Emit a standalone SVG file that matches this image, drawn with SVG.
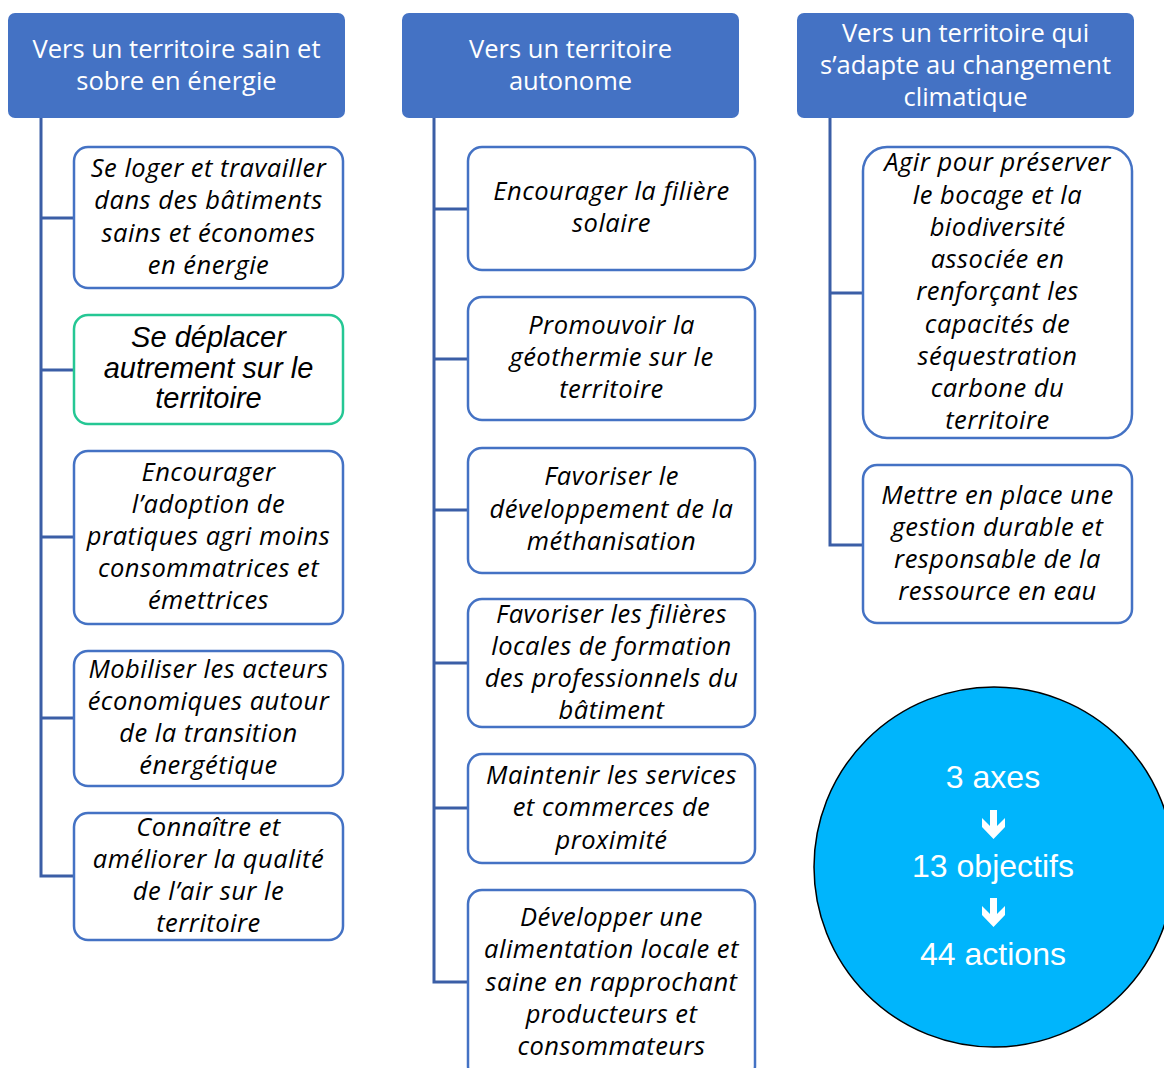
<svg xmlns="http://www.w3.org/2000/svg" width="1164" height="1068" viewBox="0 0 1164 1068">
<style>
.hdr{fill:#4472C4}
.ht{fill:#fff;font-family:"Open Sans","Noto Sans",sans-serif;font-size:25.5px;text-anchor:middle}
.box{fill:#fff;stroke:#4472C4;stroke-width:2.5}
.green{fill:#fff;stroke:#25C794;stroke-width:2.5}
.nt{fill:#000;font-family:"Open Sans","Noto Sans",sans-serif;font-style:italic;font-size:25.5px;letter-spacing:0.5px;text-anchor:middle}
.gt{fill:#000;font-family:"Liberation Sans",Arial,sans-serif;font-style:italic;font-size:29px;text-anchor:middle}
.conn{fill:none;stroke:#3B5EA6;stroke-width:3}
.ct{fill:#fff;font-family:"Liberation Sans",Arial,sans-serif;font-size:32px;text-anchor:middle}
</style>
<rect width="1164" height="1068" fill="#fff"/>
<g id="connectors">
<path class="conn" d="M41 118 V876 H74 M41 218 H74 M41 370 H74 M41 537 H74 M41 718 H74"/>
<path class="conn" d="M434 118 V982 H468 M434 209 H468 M434 359 H468 M434 510 H468 M434 663 H468 M434 808 H468"/>
<path class="conn" d="M830 118 V545 H863 M830 293 H863"/>
</g>
<g id="axe1">
<rect class="hdr" x="8" y="13" width="337" height="105" rx="7"/>
<text class="ht" x="176.5" y="58">Vers un territoire sain et</text>
<text class="ht" x="176.5" y="90">sobre en énergie</text>
</g>
<g id="axe2">
<rect class="hdr" x="402" y="13" width="337" height="105" rx="7"/>
<text class="ht" x="570.5" y="58">Vers un territoire</text>
<text class="ht" x="570.5" y="90">autonome</text>
</g>
<g id="axe3">
<rect class="hdr" x="797" y="13" width="337" height="105" rx="7"/>
<text class="ht" x="965.5" y="42">Vers un territoire qui</text>
<text class="ht" x="965.5" y="74">s’adapte au changement</text>
<text class="ht" x="965.5" y="106">climatique</text>
</g>
<g id="n1-1">
<rect class="box" x="74" y="147" width="269" height="141" rx="14"/>
<text class="nt" x="208.5" y="177">Se loger et travailler</text>
<text class="nt" x="208.5" y="209">dans des bâtiments</text>
<text class="nt" x="208.5" y="242">sains et économes</text>
<text class="nt" x="208.5" y="274">en énergie</text>
</g>
<g id="n1-2">
<rect class="green" x="74" y="315" width="269" height="109" rx="14"/>
<text class="gt" x="208.5" y="347">Se déplacer</text>
<text class="gt" x="208.5" y="378">autrement sur le</text>
<text class="gt" x="208.5" y="408">territoire</text>
</g>
<g id="n1-3">
<rect class="box" x="74" y="451" width="269" height="173" rx="14"/>
<text class="nt" x="208.5" y="481">Encourager</text>
<text class="nt" x="208.5" y="513">l’adoption de</text>
<text class="nt" x="208.5" y="545">pratiques agri moins</text>
<text class="nt" x="208.5" y="577">consommatrices et</text>
<text class="nt" x="208.5" y="609">émettrices</text>
</g>
<g id="n1-4">
<rect class="box" x="74" y="651" width="269" height="135" rx="14"/>
<text class="nt" x="208.5" y="678">Mobiliser les acteurs</text>
<text class="nt" x="208.5" y="710">économiques autour</text>
<text class="nt" x="208.5" y="742">de la transition</text>
<text class="nt" x="208.5" y="774">énergétique</text>
</g>
<g id="n1-5">
<rect class="box" x="74" y="813" width="269" height="127" rx="14"/>
<text class="nt" x="208.5" y="836">Connaître et</text>
<text class="nt" x="208.5" y="868">améliorer la qualité</text>
<text class="nt" x="208.5" y="900">de l’air sur le</text>
<text class="nt" x="208.5" y="932">territoire</text>
</g>
<g id="n2-1">
<rect class="box" x="468" y="147" width="287" height="123" rx="14"/>
<text class="nt" x="611.5" y="200">Encourager la filière</text>
<text class="nt" x="611.5" y="232">solaire</text>
</g>
<g id="n2-2">
<rect class="box" x="468" y="297" width="287" height="123" rx="14"/>
<text class="nt" x="611.5" y="334">Promouvoir la</text>
<text class="nt" x="611.5" y="366">géothermie sur le</text>
<text class="nt" x="611.5" y="398">territoire</text>
</g>
<g id="n2-3">
<rect class="box" x="468" y="448" width="287" height="125" rx="14"/>
<text class="nt" x="611.5" y="485">Favoriser le</text>
<text class="nt" x="611.5" y="518">développement de la</text>
<text class="nt" x="611.5" y="550">méthanisation</text>
</g>
<g id="n2-4">
<rect class="box" x="468" y="599" width="287" height="128" rx="14"/>
<text class="nt" x="611.5" y="623">Favoriser les filières</text>
<text class="nt" x="611.5" y="655">locales de formation</text>
<text class="nt" x="611.5" y="687">des professionnels du</text>
<text class="nt" x="611.5" y="719">bâtiment</text>
</g>
<g id="n2-5">
<rect class="box" x="468" y="754" width="287" height="109" rx="14"/>
<text class="nt" x="611.5" y="784">Maintenir les services</text>
<text class="nt" x="611.5" y="816">et commerces de</text>
<text class="nt" x="611.5" y="849">proximité</text>
</g>
<g id="n2-6">
<rect class="box" x="468" y="890" width="287" height="190" rx="14"/>
<text class="nt" x="611.5" y="926">Développer une</text>
<text class="nt" x="611.5" y="958">alimentation locale et</text>
<text class="nt" x="611.5" y="991">saine en rapprochant</text>
<text class="nt" x="611.5" y="1023">producteurs et</text>
<text class="nt" x="611.5" y="1055">consommateurs</text>
</g>
<g id="n3-1">
<rect class="box" x="863" y="147" width="269" height="291" rx="24"/>
<text class="nt" x="997.5" y="171">Agir pour préserver</text>
<text class="nt" x="997.5" y="204">le bocage et la</text>
<text class="nt" x="997.5" y="236">biodiversité</text>
<text class="nt" x="997.5" y="268">associée en</text>
<text class="nt" x="997.5" y="300">renforçant les</text>
<text class="nt" x="997.5" y="333">capacités de</text>
<text class="nt" x="997.5" y="365">séquestration</text>
<text class="nt" x="997.5" y="397">carbone du</text>
<text class="nt" x="997.5" y="429">territoire</text>
</g>
<g id="n3-2">
<rect class="box" x="863" y="465" width="269" height="158" rx="14"/>
<text class="nt" x="997.5" y="504">Mettre en place une</text>
<text class="nt" x="997.5" y="536">gestion durable et</text>
<text class="nt" x="997.5" y="568">responsable de la</text>
<text class="nt" x="997.5" y="600">ressource en eau</text>
</g>
<g id="summary">
<circle cx="994" cy="867" r="180" fill="#00B5FC" stroke="#000" stroke-width="1.5"/>
<text class="ct" x="993" y="788">3 axes</text>
<polygon fill="#fff" points="990,810 997,810 997,826 1005,818 1005,827 993.5,839 982,827 982,818 990,826"/>
<text class="ct" x="993" y="877">13 objectifs</text>
<polygon fill="#fff" points="990,898 997,898 997,914 1005,906 1005,915 993.5,927 982,915 982,906 990,914"/>
<text class="ct" x="993" y="965">44 actions</text>
</g>
</svg>
